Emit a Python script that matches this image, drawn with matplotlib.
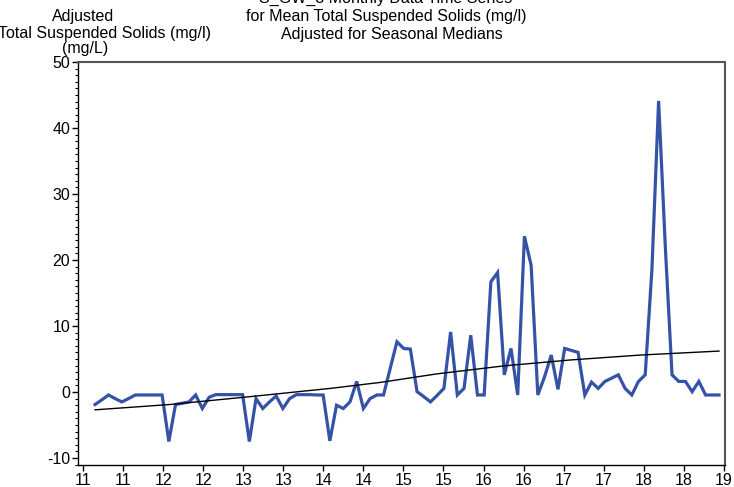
import matplotlib
matplotlib.use("Agg")
import matplotlib.pyplot as plt
import numpy as np
from matplotlib.ticker import MultipleLocator

plt.rcParams['font.family'] = ['Liberation Sans', 'DejaVu Sans']
plt.rcParams['axes.unicode_minus'] = False

# Monthly adjusted TSS values (mg/l), Feb 2011 .. Dec 2018
values = [
    -1.9, -1.2, -0.45, -1.0, -1.5, -1.0, -0.45, -0.45, -0.45, -0.45,
    -0.45, -7.5, -1.9, -1.7, -1.5, -0.45, -2.5, -0.8, -0.4, -0.4,
    -0.4, -0.4, -0.4, -7.5, -1.0, -2.5, -1.5, -0.6, -2.5, -1.0,
    -0.4, -0.4, -0.4, -0.45, -0.45, -7.4, -2.0, -2.5, -1.5, 1.6,
    -2.5, -1.0, -0.45, -0.45, 3.6, 7.6, 6.6, 6.5, 0.05, -0.7,
    -1.5, -0.5, 0.55, 9.1, -0.45, 0.55, 8.6, -0.45, -0.45, 16.7,
    18.1, 2.6, 6.6, -0.45, 23.6, 19.2, -0.45, 2.3, 5.6, 0.4,
    6.6, 6.3, 6.0, -0.45, 1.5, 0.55, 1.6, 2.1, 2.6, 0.55,
    -0.45, 1.6, 2.6, 18.5, 44.1, 22.0, 2.6, 1.6, 1.6, 0.05,
    1.6, -0.45, -0.45, -0.45,
]
start_year = 2011.15
end_year = 2018.94
dates = np.linspace(start_year, end_year, len(values))

# Smooth trend read at a few dates
trend_x = [2011.15, 2012.08, 2013.09, 2014.09, 2014.71, 2015.42, 2016.25, 2017.08, 2017.96, 2018.94]
trend_y = [-2.7, -1.9, -0.7, 0.55, 1.45, 2.75, 3.95, 4.85, 5.6, 6.2]

xticks = [2011 + 0.5 * i for i in range(17)]
xticklabels = [str(int(t))[-2:] for t in xticks]

fig = plt.figure(figsize=(7.34, 4.87), dpi=100)
ax = fig.add_axes([78/734, 1 - 465/487, (725 - 78)/734, (465 - 62)/487])

ax.plot(dates, values, color='#3553A6', lw=2.3, solid_joinstyle='miter')
ax.plot(trend_x, trend_y, color='black', lw=1.0)

ax.set_xlim(2011 - 5/80.1, 2011 + (725 - 83)/80.1)
ax.set_ylim(-11.06, 50)
ax.set_xticks(xticks)
ax.set_xticklabels(xticklabels)
ax.yaxis.set_major_locator(MultipleLocator(10))
ax.yaxis.set_minor_locator(MultipleLocator(1))
ax.tick_params(axis='both', direction='out', labelsize=11.5, length=4, width=1, pad=1.5)
ax.tick_params(axis='y', which='minor', length=2, width=0.8)

for s in ['left', 'bottom']:
    ax.spines[s].set_color('black')
    ax.spines[s].set_linewidth(1.0)
for s in ['top', 'right']:
    ax.spines[s].set_color('#555555')
    ax.spines[s].set_linewidth(1.5)

fs = 11.5
fig.text(386/734, 1 - (-2)/487, 'S_GW_3 Monthly Data Time Series', ha='center', va='center', fontsize=fs)
fig.text(386/734, 1 - 16/487, 'for Mean Total Suspended Solids (mg/l)', ha='center', va='center', fontsize=fs)
fig.text(392/734, 1 - 34/487, 'Adjusted for Seasonal Medians', ha='center', va='center', fontsize=fs)

fig.text(83/734, 1 - 16/487, 'Adjusted', ha='center', va='center', fontsize=fs)
fig.text(104/734, 1 - 33/487, 'Total Suspended Solids (mg/l)', ha='center', va='center', fontsize=fs)
fig.text(85/734, 1 - 49/487, '(mg/L)', ha='center', va='center', fontsize=fs)

fig.savefig('out.png', dpi=100)
